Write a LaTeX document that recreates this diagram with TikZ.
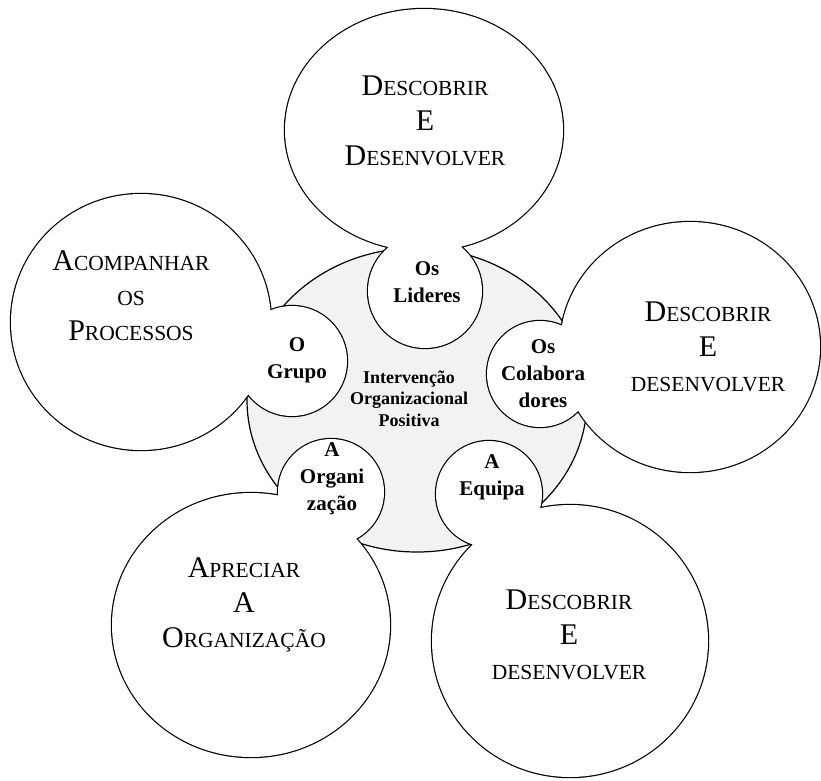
\documentclass[tikz,border=0pt]{standalone}
\usepackage{fontspec}
\setmainfont{Liberation Serif}
\definecolor{hubgray}{HTML}{F2F2F2}
\tikzstyle{hub}=[draw, fill=hubgray, line width=1.2pt]
\tikzstyle{petal rim}=[draw, line width=2.4pt]
\tikzstyle{petal body}=[fill=white]
\tikzstyle{task}=[align=center, inner sep=0, font=\fontsize{30}{35}\selectfont]
\tikzstyle{actor}=[align=center, inner sep=0, font=\bfseries\fontsize{21}{27}\selectfont]
\tikzstyle{hub text}=[align=center, inner sep=0, font=\bfseries\fontsize{18}{21.5}\selectfont]
\newcommand{\smcap}[1]{{\fontsize{21.5}{35}\selectfont #1}}

\begin{document}
\begin{tikzpicture}[x=1pt, y=-1pt]
      \useasboundingbox (0,0) rectangle (821,780);

      % centre
      \path[hub] (417,400) ellipse [x radius=170, y radius=152];

      % petals: big ellipse + small circle, rim first then white body
      \foreach \bx/\by/\brx/\bry/\sx/\sy/\sr in
        {424/130/139/121/425/291/57, 690/347/130/125/540/374/53,
         570/641/138/136/489/494/53, 251/625/139/132/331/492/53,
         141/322/130/128/292/361/55}
        \path[petal rim] (\bx,\by) ellipse [x radius=\brx, y radius=\bry]
          (\sx,\sy) circle [radius=\sr];
      \foreach \bx/\by/\brx/\bry/\sx/\sy/\sr in
        {424/130/139/121/425/291/57, 690/347/130/125/540/374/53,
         570/641/138/136/489/494/53, 251/625/139/132/331/492/53,
         141/322/130/128/292/361/55}
        \path[petal body] (\bx,\by) ellipse [x radius=\brx, y radius=\bry]
          (\sx,\sy) circle [radius=\sr];

      \node[hub text] (intervencao) at (409,398.5) {Intervenção\\Organizacional\\Positiva};

      \node[actor] (lideres) at (427,282.5) {Os\\Lideres};
      \node[actor] (grupo) at (297,360.4) {O\\Grupo};
      \node[actor] (colaboradores) at (543,374) {Os\\Colabora\\dores};
      \node[actor] (equipa) at (492,476.8) {A\\Equipa};
      \node[actor] (organizacao) at (332,478.5) {A\\Organi\\zação};

      \node[task] (discover top) at (425,121) {D\smcap{ESCOBRIR}\\E\\D\smcap{ESENVOLVER}};
      \node[task] (discover right) at (708,347) {D\smcap{ESCOBRIR}\\E\\\smcap{DESENVOLVER}};
      \node[task] (discover low) at (569,634.5) {D\smcap{ESCOBRIR}\\E\\\smcap{DESENVOLVER}};
      \node[task] (appreciate) at (244,605) {A\smcap{PRECIAR}\\A\\O\smcap{RGANIZAÇÃO}};
      \node[task] (follow) at (131,295.5) {A\smcap{COMPANHAR}\\\smcap{OS}\\P\smcap{ROCESSOS}};
    \end{tikzpicture}
\end{document}
